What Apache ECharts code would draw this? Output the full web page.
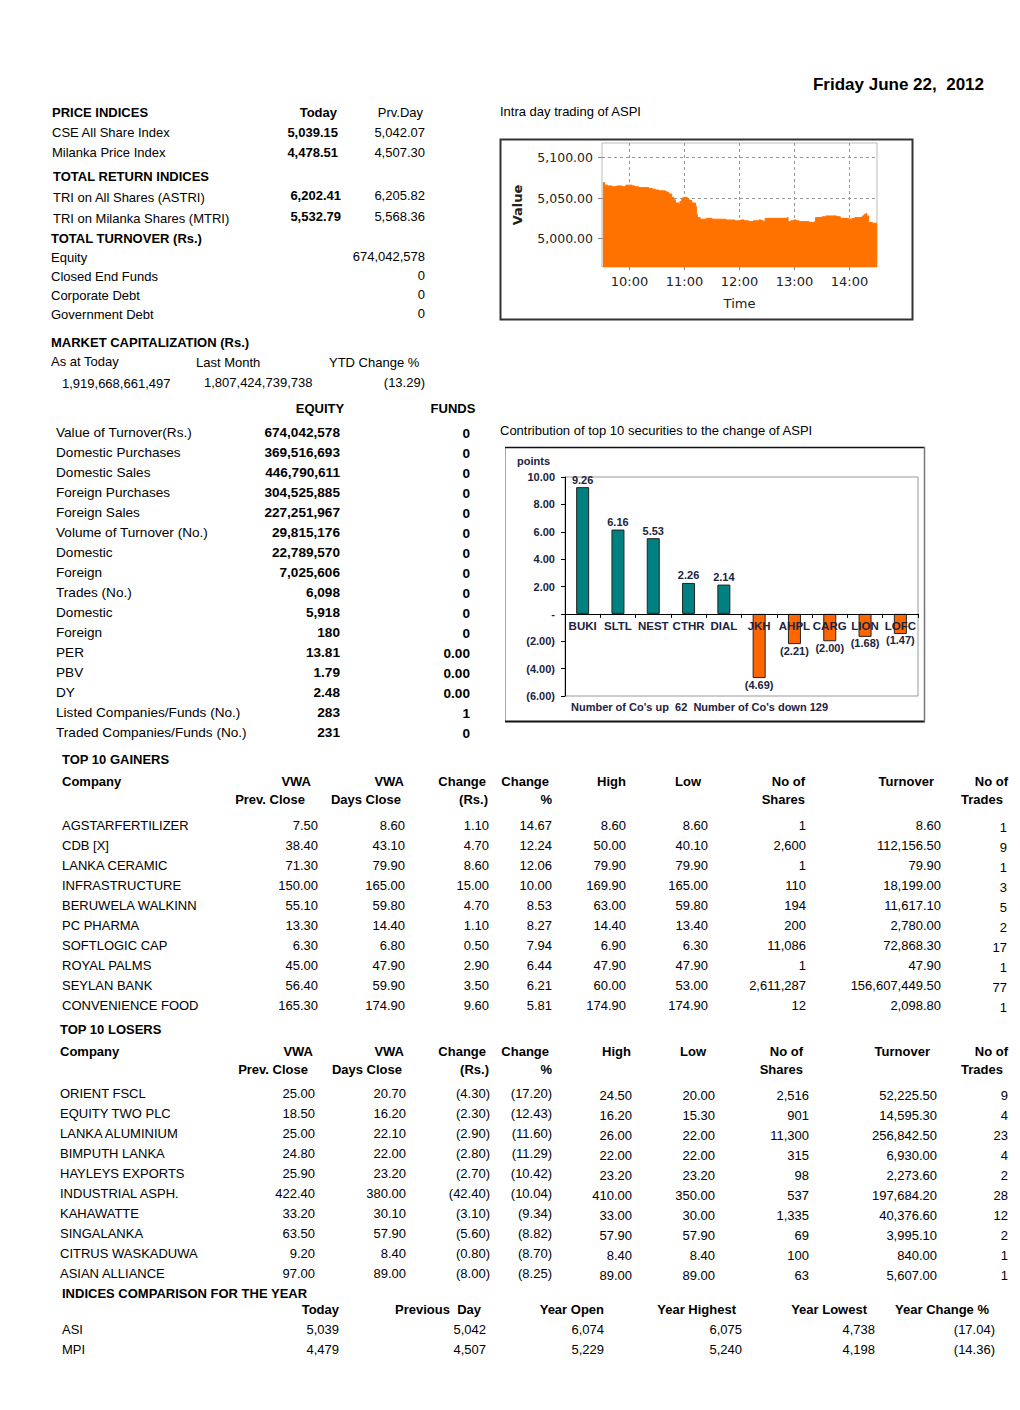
<!DOCTYPE html>
<html>
<head>
<meta charset="utf-8">
<script src="https://cdn.jsdelivr.net/npm/echarts@6/dist/echarts.min.js"></script>
<style>
html,body{margin:0;padding:0;background:#fff;}
#main{width:1020px;height:1410px;}
</style>
</head>
<body>
<div id="main"></div>
<script>
// ---------------- DATA ----------------
const reportDate = 'Friday June 22,  2012';

const priceIndexRows = [
  ['CSE All Share Index', '5,039.15', '5,042.07'],
  ['Milanka Price Index', '4,478.51', '4,507.30']
];
const returnIndexRows = [
  ['TRI on All Shares (ASTRI)', '6,202.41', '6,205.82'],
  ['TRI on Milanka Shares (MTRI)', '5,532.79', '5,568.36']
];
const turnoverRows = [
  ['Equity', '674,042,578'],
  ['Closed End Funds', '0'],
  ['Corporate Debt', '0'],
  ['Government Debt', '0']
];
const marketCapHeaders = ['As at Today', 'Last Month', 'YTD Change %'];
const marketCapValues = ['1,919,668,661,497', '1,807,424,739,738', '(13.29)'];

const equityFundsRows = [
  ['Value of Turnover(Rs.)', '674,042,578', '0'],
  ['Domestic Purchases', '369,516,693', '0'],
  ['Domestic Sales', '446,790,611', '0'],
  ['Foreign Purchases', '304,525,885', '0'],
  ['Foreign Sales', '227,251,967', '0'],
  ['Volume of Turnover (No.)', '29,815,176', '0'],
  ['Domestic', '22,789,570', '0'],
  ['Foreign', '7,025,606', '0'],
  ['Trades (No.)', '6,098', '0'],
  ['Domestic', '5,918', '0'],
  ['Foreign', '180', '0'],
  ['PER', '13.81', '0.00'],
  ['PBV', '1.79', '0.00'],
  ['DY', '2.48', '0.00'],
  ['Listed Companies/Funds (No.)', '283', '1'],
  ['Traded Companies/Funds (No.)', '231', '0']
];

const moverHeaderTop = ['Company', 'VWA', 'VWA', 'Change', 'Change', 'High', 'Low', 'No of', 'Turnover', 'No of'];
const moverHeaderBottom = ['', 'Prev. Close', 'Days Close', '(Rs.)', '%', '', '', 'Shares', '', 'Trades'];

const gainerRows = [
  ['AGSTARFERTILIZER', '7.50', '8.60', '1.10', '14.67', '8.60', '8.60', '1', '8.60', '1'],
  ['CDB [X]', '38.40', '43.10', '4.70', '12.24', '50.00', '40.10', '2,600', '112,156.50', '9'],
  ['LANKA CERAMIC', '71.30', '79.90', '8.60', '12.06', '79.90', '79.90', '1', '79.90', '1'],
  ['INFRASTRUCTURE', '150.00', '165.00', '15.00', '10.00', '169.90', '165.00', '110', '18,199.00', '3'],
  ['BERUWELA WALKINN', '55.10', '59.80', '4.70', '8.53', '63.00', '59.80', '194', '11,617.10', '5'],
  ['PC PHARMA', '13.30', '14.40', '1.10', '8.27', '14.40', '13.40', '200', '2,780.00', '2'],
  ['SOFTLOGIC CAP', '6.30', '6.80', '0.50', '7.94', '6.90', '6.30', '11,086', '72,868.30', '17'],
  ['ROYAL PALMS', '45.00', '47.90', '2.90', '6.44', '47.90', '47.90', '1', '47.90', '1'],
  ['SEYLAN BANK', '56.40', '59.90', '3.50', '6.21', '60.00', '53.00', '2,611,287', '156,607,449.50', '77'],
  ['CONVENIENCE FOOD', '165.30', '174.90', '9.60', '5.81', '174.90', '174.90', '12', '2,098.80', '1']
];

const loserRows = [
  ['ORIENT FSCL', '25.00', '20.70', '(4.30)', '(17.20)', '24.50', '20.00', '2,516', '52,225.50', '9'],
  ['EQUITY TWO PLC', '18.50', '16.20', '(2.30)', '(12.43)', '16.20', '15.30', '901', '14,595.30', '4'],
  ['LANKA ALUMINIUM', '25.00', '22.10', '(2.90)', '(11.60)', '26.00', '22.00', '11,300', '256,842.50', '23'],
  ['BIMPUTH LANKA', '24.80', '22.00', '(2.80)', '(11.29)', '22.00', '22.00', '315', '6,930.00', '4'],
  ['HAYLEYS EXPORTS', '25.90', '23.20', '(2.70)', '(10.42)', '23.20', '23.20', '98', '2,273.60', '2'],
  ['INDUSTRIAL ASPH.', '422.40', '380.00', '(42.40)', '(10.04)', '410.00', '350.00', '537', '197,684.20', '28'],
  ['KAHAWATTE', '33.20', '30.10', '(3.10)', '(9.34)', '33.00', '30.00', '1,335', '40,376.60', '12'],
  ['SINGALANKA', '63.50', '57.90', '(5.60)', '(8.82)', '57.90', '57.90', '69', '3,995.10', '2'],
  ['CITRUS WASKADUWA', '9.20', '8.40', '(0.80)', '(8.70)', '8.40', '8.40', '100', '840.00', '1'],
  ['ASIAN ALLIANCE', '97.00', '89.00', '(8.00)', '(8.25)', '89.00', '89.00', '63', '5,607.00', '1']
];

const yearIndexHeaders = ['Today', 'Previous  Day', 'Year Open', 'Year Highest', 'Year Lowest', 'Year Change %'];
const yearIndexRows = [
  ['ASI', '5,039', '5,042', '6,074', '6,075', '4,738', '(17.04)'],
  ['MPI', '4,479', '4,507', '5,229', '5,240', '4,198', '(14.36)']
];

// Intraday ASPI
const intradayTimes = ['09:31','09:33','09:36','09:41','09:46','09:52','09:56','09:59','10:03','10:06','10:10','10:15','10:21','10:25','10:28','10:32','10:35','10:39','10:41','10:43','10:46','10:48','10:50','10:54','10:55','10:57','10:59','11:03','11:05','11:08','11:12','11:13','11:14','11:17','11:24','11:30','11:38','11:45','11:50','11:55','12:01','12:05','12:10','12:15','12:21','12:24','12:26','12:28','12:32','12:43','12:52','12:53','12:56','12:59','13:02','13:05','13:10','13:16','13:22','13:23','13:30','13:34','13:40','13:46','13:50','13:55','13:59','14:03','14:06','14:10','14:14','14:16','14:18','14:19','14:21','14:25','14:30'];
const intradayValues = [5069,5066,5065,5064,5065,5064,5066,5066,5065,5064,5063,5063,5062,5061,5060,5059,5059,5058,5057,5055,5051,5048,5044,5042,5046,5050,5051,5049,5047,5044,5040,5030,5026,5024,5025,5024,5024,5023,5023,5022,5023,5022,5021,5022,5023,5022,5021,5025,5025,5025,5026,5021,5022,5023,5022,5021,5021,5020,5021,5026,5027,5028,5028,5027,5025,5025,5024,5025,5026,5026,5028,5030,5031,5028,5020,5019,5019];
const intradayHourTicks = ['10:00','11:00','12:00','13:00','14:00'];
const intradayValueTicks = [5000, 5050, 5100];

// Contribution to ASPI change
const contribCodes = ['BUKI','SLTL','NEST','CTHR','DIAL','JKH','AHPL','CARG','LION','LOFC'];
const contribPoints = [9.26, 6.16, 5.53, 2.26, 2.14, -4.69, -2.21, -2.00, -1.68, -1.47];
const companiesUp = 62;
const companiesDown = 129;

// ---------------- HELPERS ----------------
const FONT = '"Liberation Sans", Arial, Helvetica, sans-serif';
const VFONT = '"DejaVu Sans", Verdana, sans-serif';
const NAVY = '#1c2340';

function T(text, x, y, o) {
  o = o || {};
  const align = o.align || 'left';
  return {
    type: 'text', x: x, y: y, silent: true, z: 10,
    style: {
      text: text,
      fill: o.color || '#000',
      font: (o.bold ? 'bold ' : '') + (o.size || 13) + 'px ' + (o.family || FONT),
      textAlign: align, textVerticalAlign: 'middle',
      align: align, verticalAlign: 'middle'
    }
  };
}
function toMin(t) { const p = t.split(':'); return (+p[0]) * 60 + (+p[1]); }
function fmtMin(v) { const h = Math.floor(v / 60), m = Math.round(v % 60); return h + ':' + (m < 10 ? '0' : '') + m; }
function fmtIdx(v) { return v.toLocaleString('en-US', {minimumFractionDigits: 2, maximumFractionDigits: 2}); }
function fmtPts(v) { return Math.abs(v) < 1e-9 ? '-' : (v < 0 ? '(' + Math.abs(v).toFixed(2) + ')' : v.toFixed(2)); }

// ---------------- GRAPHIC TEXT ----------------
const g = [];
g.push(T(reportDate, 984, 84, {bold: true, size: 17, align: 'right'}));

// Price indices block
g.push(T('PRICE INDICES', 52, 112, {bold: true}));
g.push(T('Today', 337, 112, {bold: true, align: 'right'}));
g.push(T('Prv.Day', 423, 112, {align: 'right'}));
priceIndexRows.forEach((r, i) => {
  const y = 132 + i * 20;
  g.push(T(r[0], 52, y));
  g.push(T(r[1], 338, y, {bold: true, align: 'right'}));
  g.push(T(r[2], 425, y, {align: 'right'}));
});
g.push(T('TOTAL RETURN INDICES', 53, 176, {bold: true}));
returnIndexRows.forEach((r, i) => {
  const y = 196 + i * 21;
  g.push(T(r[0], 53, y + 1));
  g.push(T(r[1], 341, y - 1, {bold: true, align: 'right'}));
  g.push(T(r[2], 425, y - 1, {align: 'right'}));
});
g.push(T('TOTAL TURNOVER (Rs.)', 51, 238, {bold: true}));
turnoverRows.forEach((r, i) => {
  const y = 257 + i * 19;
  g.push(T(r[0], 51, y));
  g.push(T(r[1], 425, y - 1, {align: 'right'}));
});
g.push(T('MARKET CAPITALIZATION (Rs.)', 51, 342, {bold: true}));
[51, 196, 329].forEach((x, i) => g.push(T(marketCapHeaders[i], x, i === 0 ? 361 : 362)));
g.push(T(marketCapValues[0], 62, 383));
g.push(T(marketCapValues[1], 204, 382));
g.push(T(marketCapValues[2], 425, 382, {align: 'right'}));

// Equity / Funds
g.push(T('EQUITY', 320, 408, {bold: true, align: 'center'}));
g.push(T('FUNDS', 453, 408, {bold: true, align: 'center'}));
equityFundsRows.forEach((r, i) => {
  const y = 432 + i * 20;
  g.push(T(r[0], 56, y, {size: 13.6}));
  g.push(T(r[1], 340, y, {bold: true, size: 13.6, align: 'right'}));
  g.push(T(r[2], 470, y + 1, {bold: true, size: 13.6, align: 'right'}));
});

// Chart titles
g.push(T('Intra day trading of ASPI', 500, 111));
g.push(T('Contribution of top 10 securities to the change of ASPI', 500, 430));

// Intraday box
g.push({type: 'rect', z: -1, silent: true, shape: {x: 500.5, y: 139.5, width: 412, height: 180}, style: {fill: 'none', stroke: '#333', lineWidth: 2}});
// Contribution box
g.push({type: 'rect', z: -1, silent: true, shape: {x: 505.5, y: 447.5, width: 419, height: 274}, style: {fill: 'none', stroke: '#aaa', lineWidth: 1}});
g.push({type: 'line', z: -1, silent: true, shape: {x1: 505, y1: 447.5, x2: 925, y2: 447.5}, style: {stroke: '#111', lineWidth: 1.5}});
g.push({type: 'line', z: -1, silent: true, shape: {x1: 505, y1: 721.5, x2: 925, y2: 721.5}, style: {stroke: '#111', lineWidth: 2}});
g.push({type: 'line', z: -1, silent: true, shape: {x1: 924.5, y1: 447, x2: 924.5, y2: 722}, style: {stroke: '#777', lineWidth: 1.5}});
g.push(T('points', 517, 461, {bold: true, size: 11, color: NAVY}));
g.push(T("Number of Co's up  " + companiesUp + "  Number of Co's down " + companiesDown, 571, 707, {bold: true, size: 11, color: NAVY}));

// Movers tables
function moversTable(title, rows, titleY, hdrY, rowY, cfg) {
  g.push(T(title, cfg.titleX, titleY, {bold: true}));
  moverHeaderTop.forEach((h, c) => {
    if (c === 0) g.push(T(h, cfg.titleX, hdrY, {bold: true}));
    else g.push(T(h, cfg.hdrTopX[c - 1], hdrY, {bold: true, align: 'right'}));
  });
  moverHeaderBottom.forEach((h, c) => {
    if (h) g.push(T(h, cfg.hdrBotX[c - 1], hdrY + 18, {bold: true, align: 'right'}));
  });
  rows.forEach((r, i) => {
    const y = rowY + i * 20;
    g.push(T(r[0], cfg.titleX, y));
    for (let c = 1; c < r.length; c++) {
      const dy = (c >= cfg.lowerFrom) ? 2 : 0;
      g.push(T(r[c], cfg.valX[c - 1], y + dy, {align: 'right'}));
    }
  });
}
moversTable('TOP 10 GAINERS', gainerRows, 759, 781, 825, {
  titleX: 62,
  hdrTopX: [311, 404, 486, 549, 626, 701, 805, 934, 1008],
  hdrBotX: [305, 401, 488, 552, 0, 0, 805, 0, 1003],
  valX: [318, 405, 489, 552, 626, 708, 806, 941, 1007],
  lowerFrom: 9
});
moversTable('TOP 10 LOSERS', loserRows, 1029, 1051, 1093, {
  titleX: 60,
  hdrTopX: [313, 404, 486, 549, 631, 706, 803, 930, 1008],
  hdrBotX: [308, 402, 489, 552, 0, 0, 803, 0, 1003],
  valX: [315, 406, 490, 552, 632, 715, 809, 937, 1008],
  lowerFrom: 5
});

// Year comparison
g.push(T('INDICES COMPARISON FOR THE YEAR', 62, 1293, {bold: true}));
const yearHdrX = [339, 481, 604, 736, 867, 989];
const yearValX = [339, 486, 604, 742, 875, 995];
yearIndexHeaders.forEach((h, i) => g.push(T(h, yearHdrX[i], 1309, {bold: true, align: 'right'})));
yearIndexRows.forEach((r, i) => {
  const y = 1329 + i * 20;
  g.push(T(r[0], 62, y));
  for (let c = 1; c < r.length; c++) g.push(T(r[c], yearValX[c - 1], y, {align: 'right'}));
});

// ---------------- CHART ----------------
const intradayData = intradayTimes.map((t, i) => [toMin(t), intradayValues[i]]);
const hourTickValues = intradayHourTicks.map(toMin);

// bar-chart value axis range and grid; the category axis is lifted to the zero line
const barMin = -6, barMax = 10;
const barGrid = {left: 565, top: 477, width: 353, height: 219};
const zeroLift = -barGrid.height * (0 - barMin) / (barMax - barMin);

const option = {
  animation: false,
  backgroundColor: '#fff',
  graphic: {elements: g},
  grid: [
    {left: 602, top: 143, width: 275, height: 124, show: true, borderColor: '#bbb', borderWidth: 1},
    Object.assign({show: true, borderColor: '#999', borderWidth: 1}, barGrid)
  ],
  xAxis: [
    {
      type: 'value', gridIndex: 0, min: toMin('09:30'), max: toMin('14:30'),
      name: 'Time', nameLocation: 'middle', nameGap: 30,
      nameTextStyle: {fontFamily: VFONT, fontSize: 13, color: '#222'},
      axisLine: {show: false},
      axisTick: {show: true, customValues: hourTickValues, length: 3, lineStyle: {color: '#888'}},
      axisLabel: {customValues: hourTickValues, formatter: fmtMin, fontFamily: VFONT, fontSize: 13, color: '#222', margin: 8},
      splitLine: {show: true, lineStyle: {type: [3, 3], color: '#999', width: 1}}
    },
    {
      type: 'category', gridIndex: 1, data: contribCodes, position: 'bottom', offset: zeroLift, z: 5,
      axisLine: {onZero: false, lineStyle: {color: '#000', width: 1}},
      axisTick: {show: true, length: 4, interval: 0, lineStyle: {color: '#000'}},
      axisLabel: {interval: 0, fontFamily: FONT, fontWeight: 'bold', fontSize: 11.5, color: NAVY, margin: 6},
      splitLine: {show: false}
    }
  ],
  yAxis: [
    {
      type: 'value', gridIndex: 0, min: 4965, max: 5118,
      name: 'Value', nameLocation: 'middle', nameGap: 78, nameRotate: 90,
      nameTextStyle: {fontFamily: VFONT, fontSize: 13, fontWeight: 'bold', color: '#222'},
      axisLine: {show: false},
      axisTick: {show: true, customValues: intradayValueTicks, length: 4, lineStyle: {color: '#888'}},
      axisLabel: {customValues: intradayValueTicks, formatter: fmtIdx, fontFamily: VFONT, fontSize: 12.5, color: '#222', margin: 9},
      splitLine: {show: true, lineStyle: {type: [3, 3], color: '#999', width: 1}}
    },
    {
      type: 'value', gridIndex: 1, min: barMin, max: barMax, interval: 2,
      axisLine: {show: true, lineStyle: {color: '#000', width: 1}},
      axisTick: {show: true, length: 4, lineStyle: {color: '#000'}},
      axisLabel: {formatter: fmtPts, fontFamily: FONT, fontWeight: 'bold', fontSize: 11, color: NAVY, margin: 10},
      splitLine: {show: false}
    }
  ],
  series: [
    {
      type: 'line', xAxisIndex: 0, yAxisIndex: 0, data: intradayData,
      symbol: 'none', step: 'end',
      lineStyle: {color: '#ff7200', width: 1},
      areaStyle: {color: '#ff7200', opacity: 1, origin: 'start'}
    },
    {
      type: 'bar', xAxisIndex: 1, yAxisIndex: 1, barWidth: 13,
      data: contribPoints.map(v => ({
        value: v,
        itemStyle: {color: v >= 0 ? '#008080' : '#ff6600', borderColor: '#222', borderWidth: 1},
        label: {position: v >= 0 ? 'top' : 'bottom', distance: v >= 0 ? 2 : 1}
      })),
      label: {show: true, formatter: p => fmtPts(p.value), fontFamily: FONT, fontWeight: 'bold', fontSize: 11, color: NAVY}
    }
  ]
};

const chart = echarts.init(document.getElementById('main'), null, {renderer: 'svg', width: 1020, height: 1410});
chart.setOption(option);
</script>
</body>
</html>
